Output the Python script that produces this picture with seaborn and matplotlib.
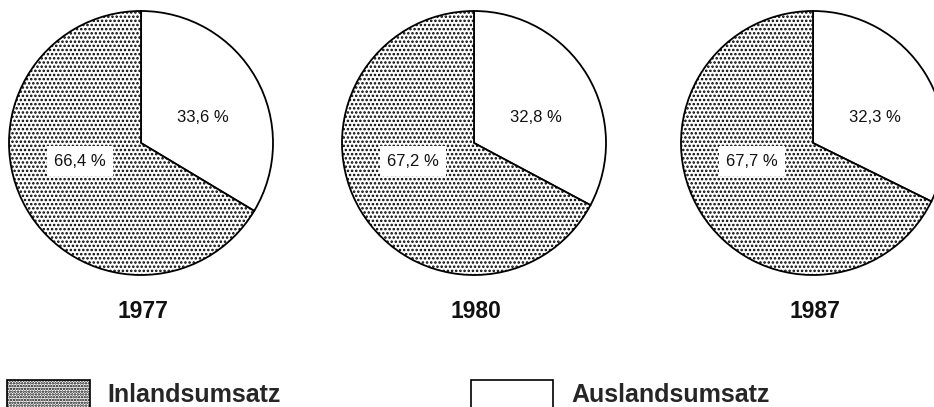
"""
Inlands- vs. Auslandsumsatz, three pie charts (1977, 1980, 1987).
"""
import matplotlib
matplotlib.use("Agg")
import matplotlib.pyplot as plt
from matplotlib.patches import Patch
import seaborn as sns

# ---------------------------------------------------------------------------
# Data
# ---------------------------------------------------------------------------
years = ["1977", "1980", "1987"]
inland = [66.4, 67.2, 67.7]
ausland = [33.6, 32.8, 32.3]
inland_labels = ["66,4 %", "67,2 %", "67,7 %"]
ausland_labels = ["33,6 %", "32,8 %", "32,3 %"]
legend_labels = ["Inlandsumsatz", "Auslandsumsatz"]

# ---------------------------------------------------------------------------
# Layout (pixel coordinates, y up)
# ---------------------------------------------------------------------------
W, H = 934, 407
centres_x = [141, 474, 813]
centre_y = H - 143
radius = 132
FONT = ["Liberation Sans", "DejaVu Sans"]

sns.set_theme(style="white")
plt.rcParams["font.family"] = FONT
plt.rcParams["hatch.linewidth"] = 1.2
plt.rcParams["hatch.color"] = "black"

fig = plt.figure(figsize=(W / 100, H / 100), dpi=100)
ax = fig.add_axes([0, 0, 1, 1])

for cx, yr, inl, aus, il, al in zip(centres_x, years, inland, ausland,
                                    inland_labels, ausland_labels):
    wedges, _ = ax.pie([aus, inl], center=(cx, centre_y), radius=radius,
                       startangle=90, counterclock=False,
                       colors=["white", "white"],
                       wedgeprops=dict(edgecolor="black", linewidth=1.3),
                       frame=True)
    wedges[1].set_hatch("....")
    ax.text(cx + 62, centre_y + 26, al, ha="center", va="center",
            fontsize=12, color="#111111")
    ax.text(cx - 61, centre_y - 18, il, ha="center", va="center",
            fontsize=12, color="#111111",
            bbox=dict(boxstyle="square,pad=0.45", fc="white", ec="none"))
    ax.text(cx + 2, H - 311, yr, ha="center", va="center",
            fontsize=16.5, fontweight="bold", color="#111111")

ax.set_xlim(0, W)
ax.set_ylim(0, H)
ax.set_aspect("equal")
ax.axis("off")

handles = [Patch(facecolor="white", edgecolor="black", hatch="......",
                 linewidth=1.2),
           Patch(facecolor="white", edgecolor="black", linewidth=1.2)]
fig.legend(handles, legend_labels, loc="lower left",
           bbox_to_anchor=(7 / W, -1 / H), ncol=2, frameon=False,
           prop=dict(family=FONT, size=18, weight="bold"),
           handlelength=3.3, handleheight=1.36, handletextpad=0.72,
           columnspacing=7.6, borderpad=0, borderaxespad=0)

fig.savefig("out.png", dpi=100)
